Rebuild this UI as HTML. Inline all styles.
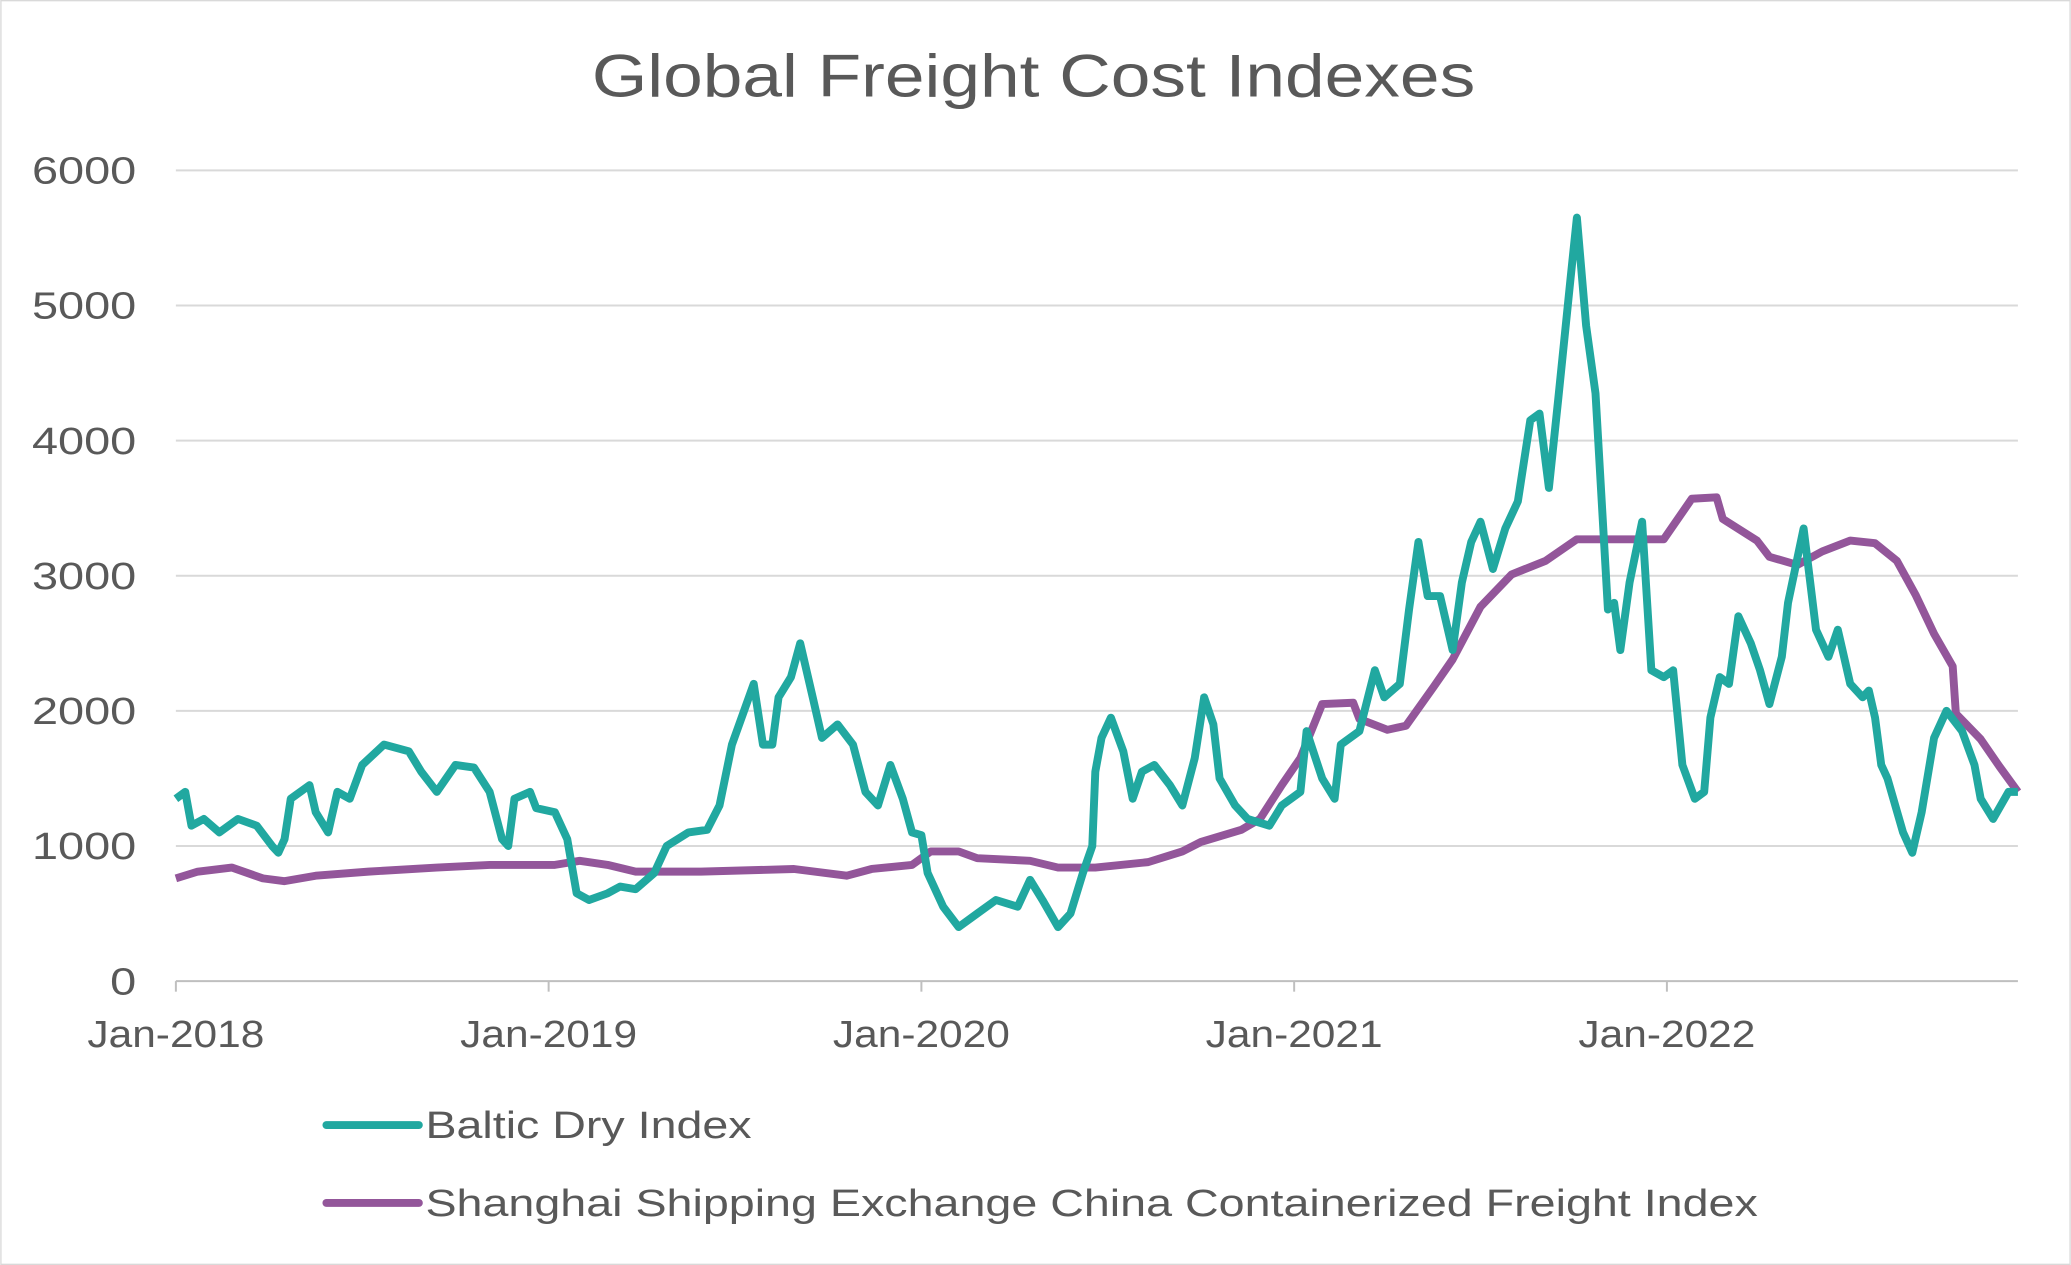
<!DOCTYPE html>
<html><head><meta charset="utf-8"><style>
html,body{margin:0;padding:0;background:#fff}
svg{display:block}
text{font-family:"Liberation Sans",sans-serif;fill:#595959}
</style></head><body>
<svg id="chart" width="2071" height="1265" viewBox="0 0 1568 958" xmlns="http://www.w3.org/2000/svg">
<rect x="0.5" y="0.5" width="1567" height="957" fill="#fff" stroke="#d9d9d9"/>
<text x="448" y="73" textLength="669" lengthAdjust="spacingAndGlyphs" font-size="46">Global Freight Cost Indexes</text>
<g id="grid"></g><g id="series"></g><g id="axes"></g>
<g>
<line x1="247" y1="852" x2="317" y2="852" stroke="#21a8a0" stroke-width="6" stroke-linecap="round"/>
<text x="322" y="862" font-size="29" textLength="247" lengthAdjust="spacingAndGlyphs">Baltic Dry Index</text>
<line x1="247" y1="911" x2="317" y2="911" stroke="#93569a" stroke-width="6" stroke-linecap="round"/>
<text x="322" y="921" font-size="29" textLength="1009" lengthAdjust="spacingAndGlyphs">Shanghai Shipping Exchange China Containerized Freight Index</text>
</g>
</svg>
<script>
const yTicks=[0,1000,2000,3000,4000,5000,6000];
const xTickMonths=[0,12,24,36,48];
const xTickLabels=["Jan-2018","Jan-2019","Jan-2020","Jan-2021","Jan-2022"];
const bdiMonths=[0,0.3,0.5,0.9,1.4,2.0,2.6,3.1,3.3,3.5,3.7,4.3,4.5,4.9,5.2,5.6,6.0,6.7,7.5,7.9,8.4,9.0,9.6,10.1,10.5,10.7,10.9,11.4,11.6,12.2,12.6,12.9,13.3,13.9,14.3,14.8,15.4,15.8,16.5,17.1,17.5,17.9,18.6,18.9,19.2,19.4,19.8,20.1,20.5,20.8,21.3,21.8,22.2,22.6,23.0,23.4,23.7,24.0,24.2,24.7,25.2,25.8,26.4,27.1,27.5,27.9,28.4,28.8,29.2,29.5,29.6,29.8,30.1,30.5,30.8,31.1,31.5,32.0,32.4,32.8,33.1,33.4,33.6,34.1,34.5,35.2,35.6,36.2,36.4,36.9,37.3,37.5,38.1,38.6,38.9,39.4,39.7,40.0,40.3,40.7,41.1,41.4,41.7,42.0,42.4,42.8,43.2,43.6,43.9,44.2,44.5,44.9,45.1,45.4,45.7,45.9,46.1,46.3,46.5,46.8,47.2,47.5,47.9,48.2,48.5,48.9,49.2,49.4,49.7,50.0,50.3,50.7,51.0,51.3,51.7,51.9,52.4,52.8,53.2,53.5,53.9,54.3,54.5,54.7,54.9,55.1,55.6,55.9,56.2,56.6,57.0,57.5,57.9,58.1,58.5,59.0,59.3];
const bdiValues=[1350,1400,1150,1200,1100,1200,1150,1000,950,1050,1350,1450,1250,1100,1400,1350,1600,1750,1700,1550,1400,1600,1580,1400,1050,1000,1350,1400,1280,1250,1050,650,600,650,700,680,800,1000,1100,1120,1300,1750,2200,1750,1750,2100,2250,2500,2100,1800,1900,1750,1400,1300,1600,1350,1100,1080,800,550,400,500,600,550,750,600,400,500,800,1000,1550,1800,1950,1700,1350,1550,1600,1450,1300,1650,2100,1900,1500,1300,1200,1150,1300,1400,1850,1500,1350,1750,1850,2300,2100,2200,2750,3250,2850,2850,2450,2950,3250,3400,3050,3350,3550,4150,4200,3650,4300,5200,5650,4850,4350,3550,2750,2800,2450,2950,3400,2300,2250,2300,1600,1350,1400,1950,2250,2200,2700,2500,2300,2050,2400,2800,3350,2600,2400,2600,2200,2100,2150,1950,1600,1500,1100,950,1250,1800,2000,1850,1600,1350,1200,1400,1400];
const scfiMonths=[0,0.7,1.8,2.8,3.5,4.5,6.2,8.4,10.1,12.2,13.0,13.9,14.8,16.9,19.9,21.6,22.4,23.7,24.3,25.2,25.8,27.5,28.4,29.6,31.3,32.4,33.0,34.3,34.9,35.6,36.2,36.9,37.9,38.1,39.0,39.6,40.5,41.1,42.0,43.0,44.1,45.1,46.2,47.1,47.9,48.8,49.6,49.8,50.9,51.3,52.2,53.0,53.9,54.7,55.4,56.0,56.6,57.2,57.3,58.1,58.7,59.3];
const scfiValues=[760,810,840,760,740,780,810,840,860,860,890,860,810,810,830,780,830,860,960,960,910,890,840,840,880,960,1030,1120,1200,1450,1650,2050,2060,1940,1860,1890,2180,2380,2770,3010,3110,3270,3270,3270,3270,3570,3580,3420,3260,3140,3080,3180,3260,3240,3110,2860,2570,2330,1980,1790,1590,1400];

const NS="http://www.w3.org/2000/svg";
const L=133,R=1528,T=129,B=743,XMAX=59.3,YMAX=6000;
const xs=m=>L+(m/XMAX)*(R-L);
const ys=v=>B-(v/YMAX)*(B-T);
function mk(tag,attrs,parent){const e=document.createElementNS(NS,tag);for(const k in attrs)e.setAttribute(k,attrs[k]);parent.appendChild(e);return e;}
const grid=document.getElementById('grid'),axes=document.getElementById('axes'),series=document.getElementById('series');
yTicks.forEach(v=>{
  if(v>0){const g=mk('line',{x1:L,x2:R,y1:ys(v),y2:ys(v),stroke:'#d9d9d9','stroke-width':1.5},grid);
  
  }
  const s=String(v);
  const w=s.length*19.75;
  const t=mk('text',{x:103-w,y:ys(v)+10,'font-size':29,textLength:w,lengthAdjust:'spacingAndGlyphs'},axes);t.textContent=s;
  
  
});
const ax=mk('line',{x1:L,x2:R,y1:B,y2:B,stroke:'#bfbfbf','stroke-width':1.5},axes);


xTickMonths.forEach((m,i)=>{
  const tk=mk('line',{x1:xs(m),x2:xs(m),y1:B,y2:B+8,stroke:'#bfbfbf','stroke-width':1.5},axes);
  
  
  const t=mk('text',{x:xs(m)-67,y:B+50,'font-size':29,textLength:134,lengthAdjust:'spacingAndGlyphs'},axes);t.textContent=xTickLabels[i];
  
  
});
function line(ms,vs,color,name){
  const d=ms.map((m,i)=>(i?'L':'M')+xs(m).toFixed(1)+','+ys(vs[i]).toFixed(1)).join('');
  const p=mk('path',{d:d,fill:'none',stroke:color,'stroke-width':6,'stroke-linejoin':'round'},series);
  
  
}
line(scfiMonths,scfiValues,'#93569a','scfi-line');
line(bdiMonths,bdiValues,'#21a8a0','bdi-line');
</script>
</body></html>
